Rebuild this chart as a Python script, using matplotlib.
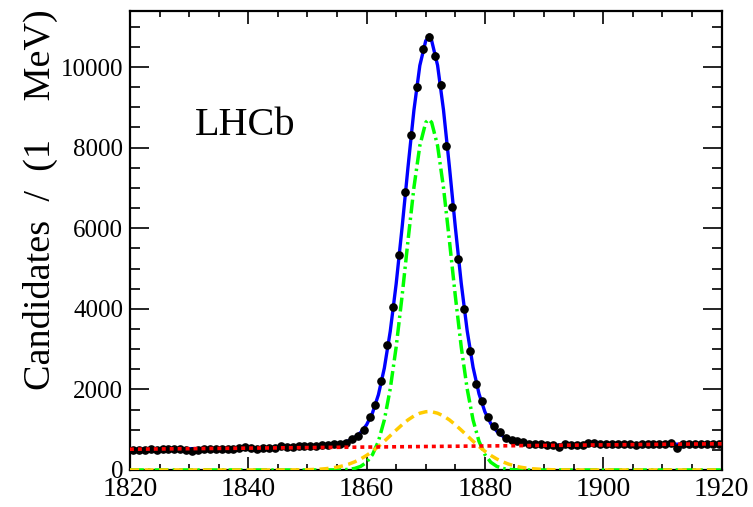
import numpy as np
import matplotlib as mpl
mpl.use('Agg')
import matplotlib.pyplot as plt
from matplotlib.ticker import MultipleLocator

plt.rcParams['font.family'] = ['Liberation Serif', 'DejaVu Serif']

# binned data, 1 MeV bins, centres 1820.5 ... 1919.5
mass = np.arange(1820.5, 1920, 1.0)
counts = np.array([
    505, 490, 500, 510, 505, 520, 515, 525, 510, 485,
    480, 500, 515, 520, 525, 515, 530, 525, 545, 560,
    535, 530, 545, 540, 555, 600,
    578, 578, 588, 603, 596, 603, 620, 620, 638, 645, 677,
    760, 855, 980, 1310, 1620, 2210, 3095, 4035, 5335, 6890, 8310, 9495, 10440,
    10750, 10275, 9555, 8045, 6525, 5245, 3995, 2955, 2135, 1715,
    1325, 1090, 935, 790, 745, 720, 690, 645, 640, 640,
    630, 615, 580, 640, 630, 630, 630, 670, 670,
    640, 650, 635, 645, 650, 640, 630, 645, 650, 640,
    650, 650, 680, 555, 645, 650, 640, 655, 645, 650, 655,
])

# fit components
x_fit = [1820, 1830, 1840, 1845, 1848, 1850, 1852, 1853, 1854, 1855,
         1856, 1857, 1858, 1859, 1860, 1861, 1862, 1863, 1864, 1865,
         1866, 1867, 1868, 1869, 1870, 1870.5, 1871, 1872, 1873, 1874,
         1875, 1876, 1877, 1878, 1879, 1880, 1881, 1882, 1883, 1884,
         1885, 1886, 1887, 1888, 1890, 1892, 1895, 1900, 1910, 1920]
sig_fit = [0, 0, 0, 0, 0, 0, 0, 0, 1, 2,
           6, 16, 39, 90, 191, 382, 713, 1241, 2015, 3053,
           4316, 5693, 7007, 8048, 8625, 8700, 8625, 8048, 7007, 5693,
           4316, 3053, 2015, 1241, 713, 382, 191, 90, 39, 16,
           6, 2, 1, 0, 0, 0, 0, 0, 0, 0]
wide_fit = [0, 0, 0, 0, 2, 7, 19, 31, 47, 70,
            103, 146, 203, 274, 362, 465, 584, 714, 852, 990,
            1123, 1243, 1340, 1409, 1445, 1450, 1445, 1409, 1340, 1243,
            1123, 990, 852, 714, 584, 465, 362, 274, 203, 146,
            103, 70, 47, 31, 12, 4, 0, 0, 0, 0]
bkg_fit = [515, 529, 542, 549, 553, 556, 558, 560, 561, 562,
           564, 565, 566, 568, 569, 570, 572, 573, 574, 576,
           577, 578, 580, 581, 583, 583, 584, 585, 587, 588,
           589, 591, 592, 593, 595, 596, 597, 599, 600, 601,
           603, 604, 605, 607, 610, 612, 616, 623, 637, 650]

total_fit = np.array(sig_fit) + np.array(wide_fit) + np.array(bkg_fit)

fig = plt.figure(figsize=(7.53, 5.07), dpi=100)
ax = fig.add_axes([0.1726, 0.073, 0.7856, 0.9053])

ax.plot(x_fit, total_fit, color='#0000ff', lw=2.4, zorder=2)
ax.errorbar(mass, counts, xerr=0.5, yerr=np.sqrt(counts), fmt='o', color='black',
            ms=5.2, elinewidth=1.8, capsize=0, zorder=3)
ax.plot(x_fit, sig_fit, color='#00ff00', lw=2.5, ls=(0, (4, 1.2, 0.7, 1.2)), zorder=4)
ax.plot(x_fit, wide_fit, color='#ffcc00', lw=2.5, ls=(0, (2.6, 1.6)), zorder=4)
ax.plot(x_fit, bkg_fit, color='#ff0000', lw=2.6, ls=(0, (1.1, 1.1)),
        dash_capstyle='butt', zorder=5)

ax.set_xlim(1820, 1920)
ax.set_ylim(0, 11390)
ax.xaxis.set_major_locator(MultipleLocator(20))
ax.xaxis.set_minor_locator(MultipleLocator(5))
ax.yaxis.set_major_locator(MultipleLocator(2000))
ax.yaxis.set_minor_locator(MultipleLocator(500))
ax.tick_params(axis='both', which='both', direction='in', top=True, right=True, width=1.2)
ax.tick_params(axis='x', which='major', length=9.5, labelsize=20, pad=5)
ax.tick_params(axis='x', which='minor', length=4.5)
ax.tick_params(axis='y', which='major', length=14, labelsize=18, pad=5)
ax.tick_params(axis='y', which='minor', length=7)
for s in ax.spines.values():
    s.set_linewidth(1.6)

ax.set_ylabel('Candidates  /  (1    MeV)', fontsize=27.5, loc='top')
ax.yaxis.set_label_coords(-0.122, 1.004)
ax.text(0.110, 0.730, 'LHCb', fontsize=29, transform=ax.transAxes)

fig.savefig('out.png', dpi=100)
